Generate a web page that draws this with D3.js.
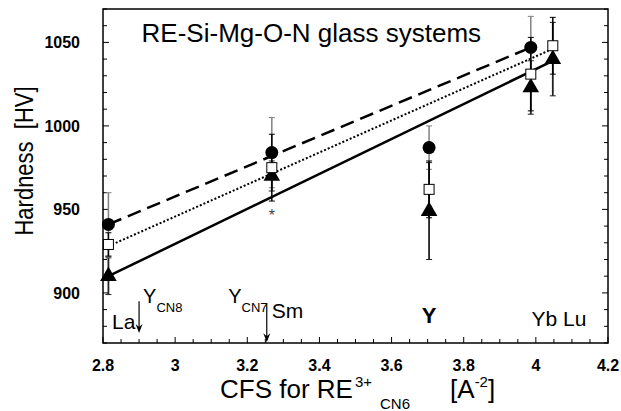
<!DOCTYPE html>
<html>
<head>
<meta charset="utf-8">
<script src="https://cdn.jsdelivr.net/npm/d3@7"></script>
<style>
  body { margin: 0; background: #fff; }
  svg { font-family: Arial, "Liberation Sans", sans-serif; }
</style>
</head>
<body>
<div id="chart"></div>
<script>
// CFS values of the rare earths (x) and hardness of the three series
var cfs = [2.815, 3.268, 3.704, 3.986, 4.047];
var circleHV = [941, 984, 987, 1047, null];
var circleErr = [19, 21, 13, 18.6, null];
var squareHV = [929, 975, 962, 1031, 1048];
var squareErr = [7, 20, 17, 22, 17];
var triangleHV = [910, 970, 949, 1023, 1040];
var triangleErr = [11, 9, 29, 16, 22];

// fitted lines (end points)
var fitDashed = [[2.815, 941], [3.986, 1047]];
var fitDotted = [[2.815, 928], [4.035, 1045]];
var fitSolid = [[2.815, 910], [4.047, 1039]];

var xTicks = [2.8, 3, 3.2, 3.4, 3.6, 3.8, 4, 4.2];
var yTicks = [900, 950, 1000, 1050];

var margin = { top: 9, right: 13, bottom: 68, left: 103 },
  width = 621 - margin.left - margin.right,
  height = 411 - margin.top - margin.bottom;

var svg = d3
  .select("#chart")
  .append("svg")
  .attr("width", 621)
  .attr("height", 411);

var g = svg
  .append("g")
  .attr("transform", "translate(" + margin.left + "," + margin.top + ")");

var x = d3.scaleLinear().domain([2.8, 4.2]).range([0, width]);
var y = d3.scaleLinear().domain([870, 1070]).range([height, 0]);

// frame
g.append("rect")
  .attr("width", width)
  .attr("height", height)
  .attr("fill", "none")
  .attr("stroke", "#000")
  .attr("stroke-width", 1.5);

// ticks (inside)
var xMinor = d3.range(2.8, 4.2001, 0.05);
g.selectAll(".xminor")
  .data(xMinor)
  .enter()
  .append("line")
  .attr("x1", (d) => x(d))
  .attr("x2", (d) => x(d))
  .attr("y1", height)
  .attr("y2", (d) => height - (xTicks.some((t) => Math.abs(t - d) < 1e-6) ? 6 : 4))
  .attr("stroke", "#000");

var yMinor = d3.range(870, 1070.1, 10);
["left", "right"].forEach(function (side) {
  g.selectAll(".yminor-" + side)
    .data(yMinor)
    .enter()
    .append("line")
    .attr("x1", side === "left" ? 0 : width)
    .attr("x2", (d) => {
      var len = d % 50 === 0 ? 6 : 4;
      return side === "left" ? len : width - len;
    })
    .attr("y1", (d) => y(d))
    .attr("y2", (d) => y(d))
    .attr("stroke", "#000");
});

// tick labels
g.selectAll(".xlab")
  .data(xTicks)
  .enter()
  .append("text")
  .attr("x", (d) => x(d))
  .attr("y", height + 28)
  .attr("text-anchor", "middle")
  .style("font-size", "16px")
  .style("font-weight", "bold")
  .text((d) => d);

g.selectAll(".ylab")
  .data(yTicks)
  .enter()
  .append("text")
  .attr("x", -23)
  .attr("y", (d) => y(d) + 6)
  .attr("text-anchor", "end")
  .style("font-size", "16px")
  .style("font-weight", "bold")
  .text((d) => d);

// axis titles
var xt = svg
  .append("text")
  .attr("x", 220)
  .attr("y", 398)
  .style("font-size", "26px");
xt.append("tspan").text("CFS for RE");
xt.append("tspan").attr("dx", 2).attr("dy", -11).style("font-size", "15px").text("3+");
xt.append("tspan").attr("dx", 8).attr("dy", 22).style("font-size", "15px").text("CN6");
xt.append("tspan").attr("dx", 40).attr("dy", -11).text("[A");
xt.append("tspan").attr("dy", -11).style("font-size", "15px").text("-2");
xt.append("tspan").attr("dy", 11).text("]");

svg
  .append("text")
  .attr("transform", "translate(33,161) scale(1.15,1) rotate(-90)")
  .attr("text-anchor", "middle")
  .style("font-size", "22px")
  .style("white-space", "pre")
  .text("Hardness  [HV]");

// title inside plot
g.append("text")
  .attr("x", x(2.907))
  .attr("y", y(1050))
  .style("font-size", "26px")
  .text("RE-Si-Mg-O-N glass systems");

// fit lines
var line = d3
  .line()
  .x((d) => x(d[0]))
  .y((d) => y(d[1]));

g.append("path")
  .attr("d", line(fitDashed))
  .attr("fill", "none")
  .attr("stroke", "#000")
  .attr("stroke-width", 2.5)
  .attr("stroke-dasharray", "14,7");
g.append("path")
  .attr("d", line(fitDotted))
  .attr("fill", "none")
  .attr("stroke", "#000")
  .attr("stroke-width", 2)
  .attr("stroke-dasharray", "2,2");
g.append("path")
  .attr("d", line(fitSolid))
  .attr("fill", "none")
  .attr("stroke", "#000")
  .attr("stroke-width", 2.5);

// error bars
function errorBars(vals, errs, color, w) {
  var pts = cfs
    .map((c, i) => ({ x: c, v: vals[i], e: errs[i] }))
    .filter((d) => d.v != null);
  var eb = g.append("g");
  eb.selectAll("line.v")
    .data(pts)
    .enter()
    .append("line")
    .attr("x1", (d) => x(d.x))
    .attr("x2", (d) => x(d.x))
    .attr("y1", (d) => y(d.v - d.e))
    .attr("y2", (d) => y(d.v + d.e))
    .attr("stroke", color)
    .attr("stroke-width", w);
  [-1, 1].forEach(function (s) {
    eb.selectAll("line.c" + s)
      .data(pts)
      .enter()
      .append("line")
      .attr("x1", (d) => x(d.x) - 3)
      .attr("x2", (d) => x(d.x) + 3)
      .attr("y1", (d) => y(d.v + s * d.e))
      .attr("y2", (d) => y(d.v + s * d.e))
      .attr("stroke", color)
      .attr("stroke-width", 1);
  });
}
errorBars(circleHV, circleErr, "#808080", 1.5);
errorBars(triangleHV, triangleErr, "#222", 1.8);
errorBars(squareHV, squareErr, "#000", 1.5);

// markers
var circlePts = cfs.map((c, i) => [c, circleHV[i]]).filter((d) => d[1] != null);
var squarePts = cfs.map((c, i) => [c, squareHV[i]]);
var trianglePts = cfs.map((c, i) => [c, triangleHV[i]]);

g.selectAll(".tri")
  .data(trianglePts)
  .enter()
  .append("path")
  .attr("d", d3.symbol().type(d3.symbolTriangle).size(120))
  .attr("transform", (d) => "translate(" + x(d[0]) + "," + y(d[1]) + ")")
  .attr("fill", "#000");

g.selectAll(".circ")
  .data(circlePts)
  .enter()
  .append("circle")
  .attr("cx", (d) => x(d[0]))
  .attr("cy", (d) => y(d[1]))
  .attr("r", 6.5)
  .attr("fill", "#000");

g.selectAll(".sq")
  .data(squarePts)
  .enter()
  .append("rect")
  .attr("x", (d) => x(d[0]) - 5)
  .attr("y", (d) => y(d[1]) - 5)
  .attr("width", 10)
  .attr("height", 10)
  .attr("fill", "#fff")
  .attr("stroke", "#000")
  .attr("stroke-width", 1);

// asterisk below Sm
g.append("text")
  .attr("x", x(3.268))
  .attr("y", y(943))
  .attr("text-anchor", "middle")
  .attr("fill", "#444")
  .style("font-size", "16px")
  .text("*");

// element labels
var labels = [
  { t: "La", x: 2.825, v: 878.4 },
  { t: "Sm", x: 3.268, v: 885 },
  { t: "Yb Lu", x: 3.988, v: 880 },
];
g.selectAll(".el")
  .data(labels)
  .enter()
  .append("text")
  .attr("x", (d) => x(d.x))
  .attr("y", (d) => y(d.v))
  .style("font-size", "21px")
  .style("white-space", "pre")
  .text((d) => d.t);

g.append("text")
  .attr("x", x(3.704))
  .attr("y", y(882))
  .attr("text-anchor", "middle")
  .style("font-size", "22px")
  .style("font-weight", "bold")
  .text("Y");

var ycn = [
  { x: 2.911, sub: "CN8" },
  { x: 3.147, sub: "CN7" },
];
ycn.forEach(function (d) {
  var t = g.append("text")
    .attr("x", x(d.x))
    .attr("y", y(894))
    .style("font-size", "20px");
  t.append("tspan").text("Y");
  t.append("tspan").attr("dy", 9).style("font-size", "13px").text(d.sub);
});

// arrows
var arrows = [
  { x: 2.9, from: 895, to: 876 },
  { x: 3.254, from: 894, to: 870.5 },
];
arrows.forEach(function (a) {
  var ax = x(a.x), y0 = y(a.from), y1 = y(a.to);
  g.append("line")
    .attr("x1", ax)
    .attr("x2", ax)
    .attr("y1", y0)
    .attr("y2", y1 - 4)
    .attr("stroke", "#000")
    .attr("stroke-width", 1.2);
  g.append("path")
    .attr("d", "M" + (ax - 3.5) + "," + (y1 - 9) + "L" + ax + "," + (y1 - 6) + "L" + (ax + 3.5) + "," + (y1 - 9) + "L" + ax + "," + y1 + "Z")
    .attr("fill", "#000");
});
</script>
</body>
</html>
